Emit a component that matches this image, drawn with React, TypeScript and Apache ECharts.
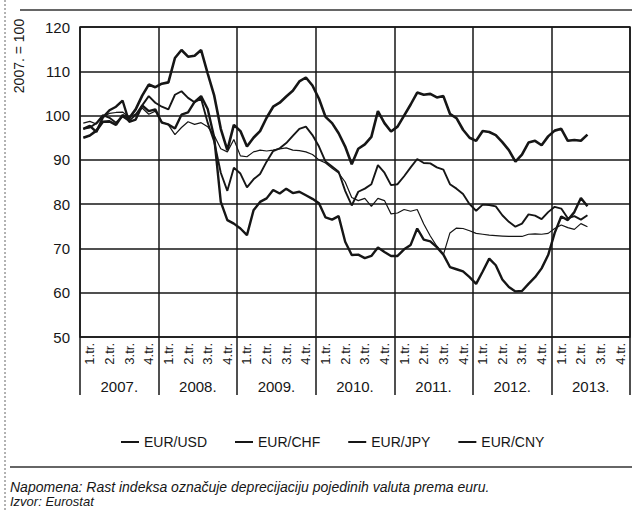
import React, { useEffect, useRef } from "react";
import * as echarts from "echarts";

const years = ["2007.", "2008.", "2009.", "2010.", "2011.", "2012.", "2013."];
const quarters = ["1.tr.", "2.tr.", "3.tr.", "4.tr."];
const yTicks = [50, 60, 70, 80, 90, 100, 110, 120];
const seriesNames = ["EUR/USD", "EUR/CHF", "EUR/JPY", "EUR/CNY"];

// monthly index values, Jan 2007 - Jun 2013 (2007. = 100)
const eurUsd = [
  95.0, 95.5, 96.6, 98.6, 98.7, 97.9, 100.1, 99.4, 101.4, 104.5, 107.0, 106.4,
  107.2, 107.5, 113.0, 114.8, 113.3, 113.5, 114.8, 109.5, 104.5, 97.0, 92.2, 97.9,
  96.5, 93.0, 95.0, 96.5, 99.5, 102.0, 102.9, 104.3, 105.6, 107.7, 108.6, 106.8,
  103.8, 99.7, 98.3, 96.0, 93.0, 89.0, 92.5, 93.5, 95.2, 101.0, 98.3, 96.4,
  97.5, 100.0, 102.5, 105.2, 104.7, 104.9, 104.1, 104.4, 100.4, 99.4, 96.8, 95.0,
  94.3, 96.5, 96.3, 95.6, 94.0, 92.2, 89.6, 91.2, 93.9, 94.3, 93.3, 95.3,
  96.6, 97.0, 94.3, 94.5, 94.3, 95.7,
];
const eurChf = [
  98.3, 98.7, 98.1, 99.7, 100.5, 100.7, 100.8, 99.7, 100.3, 101.7, 100.3, 101.0,
  98.6, 97.9, 95.7, 97.3, 98.6, 98.0, 98.4, 97.5, 95.5, 92.5, 91.8, 94.6,
  90.9, 90.7, 91.8, 92.2, 92.0, 92.2, 92.5, 92.7, 92.2, 92.1, 91.8, 91.2,
  90.0, 89.3, 88.1, 87.0, 85.0, 81.5, 80.8, 81.3, 79.5, 81.3, 80.8, 77.8,
  78.0, 78.8, 78.4, 78.8, 75.5, 72.8, 70.5, 68.6, 73.5, 74.6, 74.5, 74.0,
  73.4, 73.2, 73.0, 72.9, 72.8, 72.7, 72.7, 72.7, 73.2, 73.3, 73.2, 73.4,
  74.5, 75.3, 74.7, 74.3, 75.6, 74.9,
];
const eurJpy = [
  97.0, 97.7, 96.3, 99.6, 101.2, 102.0, 103.4, 98.6, 99.1, 102.3, 101.0, 101.4,
  98.4, 98.0, 97.1, 100.2, 100.7, 103.1, 104.4, 101.5, 95.0, 80.5, 76.4, 75.6,
  74.5, 73.0, 78.6, 80.5, 81.3, 83.2, 82.4, 83.5, 82.5, 82.8, 82.0, 81.2,
  80.2, 77.0, 76.5, 77.3, 71.5, 68.5, 68.6, 67.8, 68.3, 70.2, 69.2, 68.3,
  68.3, 69.8, 70.8, 74.5, 72.0, 71.6, 70.3, 68.6, 65.8, 65.3, 64.8, 63.5,
  62.0, 64.8, 67.7, 66.2, 63.0, 61.3, 60.3, 60.4, 62.0, 63.5, 65.5, 68.5,
  73.5, 77.2, 76.4, 78.2, 81.4, 79.5,
];
const eurCny = [
  97.0, 97.3, 98.3, 100.1, 99.5, 98.4, 99.8, 98.8, 100.2, 102.3, 104.4, 102.9,
  102.0, 101.4, 104.7, 105.5, 104.0, 103.0, 103.8, 98.4, 94.1, 87.1, 83.0, 88.2,
  86.9, 83.8, 85.6, 86.8, 89.6, 92.0, 92.6, 93.8, 95.4, 97.0, 97.5, 95.6,
  93.0, 89.6, 88.5, 87.3, 83.0, 79.7, 82.8, 83.5, 84.5, 88.8, 87.1, 84.3,
  84.5, 86.3, 88.3, 90.2, 89.3, 89.2, 88.3, 87.8, 84.5, 83.5, 82.3, 80.0,
  78.5, 79.9, 79.8, 79.5, 77.5, 76.0, 74.9, 75.6, 77.7, 77.4, 76.6, 78.2,
  79.4, 79.0, 76.8, 77.3, 76.5, 77.5,
];

const FONT = "'Liberation Sans', Arial, sans-serif";
const INK = "#161616";

export default function App() {
  const ref = useRef<HTMLDivElement>(null);

  useEffect(() => {
    if (!ref.current) return;
    const chart = echarts.init(ref.current, undefined, { renderer: "svg" });

    const months = years.flatMap((y) =>
      Array.from({ length: 12 }, (_, m) => `${m + 1}/${y}`)
    );
    const quarterCats = years.flatMap((y) => quarters.map((q) => `${y}|${q}`));

    const values = [eurUsd, eurChf, eurJpy, eurCny];
    const widths = [2.6, 1.2, 2.4, 1.9];

    chart.setOption({
      animation: false,
      backgroundColor: "#ffffff",
      grid: {
        left: 80,
        right: 2,
        top: 27,
        bottom: 175,
        show: true,
        borderColor: INK,
        borderWidth: 1.5,
        containLabel: false,
      },
      xAxis: [
        {
          type: "category",
          position: "bottom",
          data: months,
          boundaryGap: true,
          axisLine: { show: false },
          axisTick: { show: false },
          axisLabel: { show: false },
          splitLine: { show: false },
        },
        {
          type: "category",
          position: "bottom",
          data: quarterCats,
          boundaryGap: true,
          axisLine: { show: false },
          axisTick: { show: false },
          splitLine: { show: false },
          axisLabel: {
            interval: 0,
            rotate: 90,
            margin: 6,
            fontSize: 13,
            fontFamily: FONT,
            color: INK,
            formatter: (v: string) => v.split("|")[1],
          },
        },
        {
          type: "category",
          position: "bottom",
          data: years,
          boundaryGap: true,
          axisLine: { show: false },
          axisTick: {
            show: true,
            interval: 0,
            length: 58,
            lineStyle: { color: INK, width: 1.5 },
          },
          splitLine: {
            show: true,
            interval: 0,
            lineStyle: { color: INK, width: 1.5 },
          },
          axisLabel: {
            interval: 0,
            margin: 42,
            fontSize: 15,
            fontFamily: FONT,
            color: INK,
          },
        },
      ],
      yAxis: {
        type: "value",
        min: yTicks[0],
        max: yTicks[yTicks.length - 1],
        interval: yTicks[1] - yTicks[0],
        axisLine: { show: false },
        axisTick: { show: false },
        splitLine: { show: true, lineStyle: { color: INK, width: 1.5 } },
        axisLabel: {
          margin: 10,
          fontSize: 15,
          fontFamily: FONT,
          color: INK,
        },
      },
      legend: {
        data: seriesNames.map((name) => ({ name, icon: "rect" })),
        left: 116,
        top: 430,
        itemWidth: 18,
        itemHeight: 2,
        itemGap: 28,
        itemStyle: { color: INK, borderWidth: 0 },
        textStyle: { fontSize: 14, fontFamily: FONT, color: INK },
      },
      series: seriesNames.map((name, i) => ({
        name,
        type: "line",
        xAxisIndex: 0,
        yAxisIndex: 0,
        data: values[i],
        symbol: "none",
        lineStyle: { color: INK, width: widths[i] },
        itemStyle: { color: INK },
        z: 5,
      })),
      graphic: [
        {
          type: "line",
          shape: { x1: 5, y1: 0, x2: 5, y2: 512 },
          style: { stroke: "#666", lineWidth: 1, lineDash: [2, 2] },
        },
        {
          type: "line",
          shape: { x1: 20, y1: 10, x2: 632, y2: 10 },
          style: { stroke: "#333", lineWidth: 1.5 },
        },
        {
          type: "text",
          x: 19,
          y: 56,
          rotation: Math.PI / 2,
          style: {
            text: "2007. = 100",
            fontSize: 14,
            fontFamily: FONT,
            fill: INK,
            align: "center",
            verticalAlign: "middle",
          },
        },
        {
          type: "line",
          shape: { x1: 10, y1: 467, x2: 632, y2: 467 },
          style: { stroke: "#333", lineWidth: 1.5 },
        },
        {
          type: "text",
          x: 10,
          y: 487,
          style: {
            text: "Napomena: Rast indeksa označuje deprecijaciju pojedinih valuta prema euru.",
            fontSize: 14,
            fontStyle: "italic",
            fontFamily: FONT,
            fill: INK,
            verticalAlign: "middle",
          },
        },
        {
          type: "text",
          x: 10,
          y: 501,
          style: {
            text: "Izvor: Eurostat",
            fontSize: 13,
            fontStyle: "italic",
            fontFamily: FONT,
            fill: INK,
            verticalAlign: "middle",
          },
        },
      ],
    });

    return () => chart.dispose();
  }, []);

  return (
    <div
      ref={ref}
      style={{ position: "fixed", left: 0, top: 0, width: 632, height: 512, background: "#fff" }}
    />
  );
}
